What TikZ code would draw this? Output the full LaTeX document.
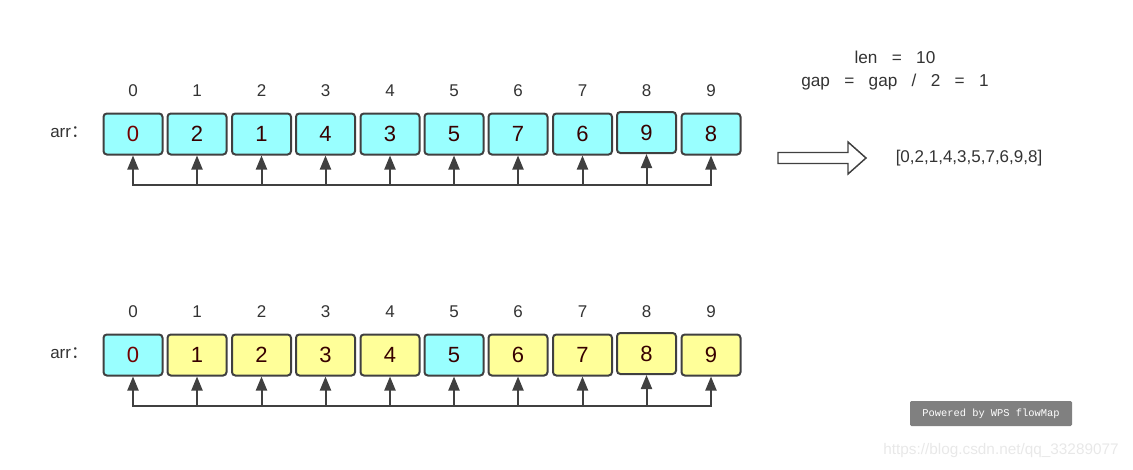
\documentclass[tikz,border=0pt]{standalone}
\usepackage{fontspec}
\setmainfont{Liberation Sans}
\newfontfamily\cjk{Noto Sans CJK SC}
\newfontfamily\wpsfont{Liberation Mono}
\usetikzlibrary{arrows.meta}
\definecolor{cellcyan}{RGB}{153,255,255}
\definecolor{cellyellow}{RGB}{255,255,153}
\definecolor{edge}{RGB}{64,64,64}
\definecolor{idx}{RGB}{51,51,51}
\definecolor{dig}{RGB}{55,0,0}
\definecolor{zero}{RGB}{115,0,0}
\definecolor{wpsgray}{RGB}{128,128,128}
\definecolor{mark}{RGB}{232,232,232}
\newcommand{\zz}[1]{\textcolor{zero}{#1}}
\tikzset{
    c1/.style={draw=edge, fill=cellcyan, line width=1.5pt, rounded corners=2.5pt, minimum width=44.25pt, minimum height=30.75pt, inner sep=0pt, text=dig, font=\fontsize{16.5}{19}\selectfont},
    c2/.style={c1, fill=cellyellow},
    ix/.style={text=idx, inner sep=0pt, font=\fontsize{12.75}{15}\selectfont},
    e1/.style={draw=edge, -{Triangle[length=10.5pt,width=8.25pt]}, line width=1.5pt},
    e0/.style={draw=edge, line width=1.5pt, line cap=rect}
}

\begin{document}
\begin{tikzpicture}[x=0.75pt, y=-0.75pt]
\useasboundingbox (0,0) rectangle (1133,469);

% Row 1 (after gap = 1, Y=134)
\node[ix, anchor=west] (R1A) at (50,132) {arr{\cjk ：}};
\node[c1] (R1N0) at (133,134) {\zz{0}};
\node[c1] (R1N1) at (197,134) {2};
\node[c1] (R1N2) at (261.5,134) {1};
\node[c1] (R1N3) at (325.5,134) {4};
\node[c1] (R1N4) at (390,134) {3};
\node[c1] (R1N5) at (454,134) {5};
\node[c1] (R1N6) at (518,134) {7};
\node[c1] (R1N7) at (582.5,134) {6};
\node[c1] (R1N8) at (646.5,132.5) {9};
\node[c1] (R1N9) at (711,134) {8};

% Row 1 indices (Y=91)
\node[ix] (R1I0) at (133,91) {0};
\node[ix] (R1I1) at (197,91) {1};
\node[ix] (R1I2) at (261.5,91) {2};
\node[ix] (R1I3) at (325.5,91) {3};
\node[ix] (R1I4) at (390,91) {4};
\node[ix] (R1I5) at (454,91) {5};
\node[ix] (R1I6) at (518,91) {6};
\node[ix] (R1I7) at (582.5,91) {7};
\node[ix] (R1I8) at (646.5,91) {8};
\node[ix] (R1I9) at (711,91) {9};

% Row 1 base line (Y=185)
\coordinate (R1B0) at (133,185);
\coordinate (R1B1) at (197,185);
\coordinate (R1B2) at (261.5,185);
\coordinate (R1B3) at (325.5,185);
\coordinate (R1B4) at (390,185);
\coordinate (R1B5) at (454,185);
\coordinate (R1B6) at (518,185);
\coordinate (R1B7) at (582.5,185);
\coordinate (R1B8) at (646.5,185);
\coordinate (R1B9) at (711,185);
\draw[e0] (R1B0) -- (R1B9);
\draw[e1] (R1B0) -- (R1N0);
\draw[e1] (R1B1) -- (R1N1);
\draw[e1] (R1B2) -- (R1N2);
\draw[e1] (R1B3) -- (R1N3);
\draw[e1] (R1B4) -- (R1N4);
\draw[e1] (R1B5) -- (R1N5);
\draw[e1] (R1B6) -- (R1N6);
\draw[e1] (R1B7) -- (R1N7);
\draw[e1] (R1B8) -- (R1N8);
\draw[e1] (R1B9) -- (R1N9);

% Row 2 (sorted, Y=355)
\node[ix, anchor=west] (R2A) at (50,353) {arr{\cjk ：}};
\node[c1] (R2N0) at (133,355) {\zz{0}};
\node[c2] (R2N1) at (197,355) {1};
\node[c2] (R2N2) at (261.5,355) {2};
\node[c2] (R2N3) at (325.5,355) {3};
\node[c2] (R2N4) at (390,355) {4};
\node[c1] (R2N5) at (454,355) {5};
\node[c2] (R2N6) at (518,355) {6};
\node[c2] (R2N7) at (582.5,355) {7};
\node[c2] (R2N8) at (646.5,353.5) {8};
\node[c2] (R2N9) at (711,355) {9};

% Row 2 indices (Y=311)
\node[ix] (R2I0) at (133,311.5) {0};
\node[ix] (R2I1) at (197,311.5) {1};
\node[ix] (R2I2) at (261.5,311.5) {2};
\node[ix] (R2I3) at (325.5,311.5) {3};
\node[ix] (R2I4) at (390,311.5) {4};
\node[ix] (R2I5) at (454,311.5) {5};
\node[ix] (R2I6) at (518,311.5) {6};
\node[ix] (R2I7) at (582.5,311.5) {7};
\node[ix] (R2I8) at (646.5,311.5) {8};
\node[ix] (R2I9) at (711,311.5) {9};

% Row 2 base line (Y=406)
\coordinate (R2B0) at (133,406);
\coordinate (R2B1) at (197,406);
\coordinate (R2B2) at (261.5,406);
\coordinate (R2B3) at (325.5,406);
\coordinate (R2B4) at (390,406);
\coordinate (R2B5) at (454,406);
\coordinate (R2B6) at (518,406);
\coordinate (R2B7) at (582.5,406);
\coordinate (R2B8) at (646.5,406);
\coordinate (R2B9) at (711,406);
\draw[e0] (R2B0) -- (R2B9);
\draw[e1] (R2B0) -- (R2N0);
\draw[e1] (R2B1) -- (R2N1);
\draw[e1] (R2B2) -- (R2N2);
\draw[e1] (R2B3) -- (R2N3);
\draw[e1] (R2B4) -- (R2N4);
\draw[e1] (R2B5) -- (R2N5);
\draw[e1] (R2B6) -- (R2N6);
\draw[e1] (R2B7) -- (R2N7);
\draw[e1] (R2B8) -- (R2N8);
\draw[e1] (R2B9) -- (R2N9);

% Notes on the right
\node[ix, font=\fontsize{12.9}{15}\selectfont] (L1) at (895,57.5) {len\ \ \ =\ \ \ 10};
\node[ix, font=\fontsize{12.9}{15}\selectfont] (L2) at (895,82.5) {gap\ \ \ =\ \ \ gap\ \ \ /\ \ \ 2\ \ \ =\ \ \ 1};
\draw[draw=edge, line width=1.1pt, fill=white] (778,152.5) -- (848,152.5) -- (848,142) -- (866,158) -- (848,174) -- (848,163.5) -- (778,163.5) -- cycle;
\node[ix] (RES) at (969,158) {[0,2,1,4,3,5,7,6,9,8]};

% Watermarks
\node[fill=wpsgray, rounded corners=1pt, minimum width=121.5pt, minimum height=18.75pt, inner sep=0pt, text=white, font=\wpsfont\fontsize{7.8}{9}\selectfont] (WPS) at (991,413.5) {Powered by WPS flowMap};
\node[text=mark, inner sep=0pt, font=\fontsize{11.5}{13}\selectfont] (CSDN) at (1001,451) {https://blog.csdn.net/qq\_33289077};

\end{tikzpicture}
\end{document}
